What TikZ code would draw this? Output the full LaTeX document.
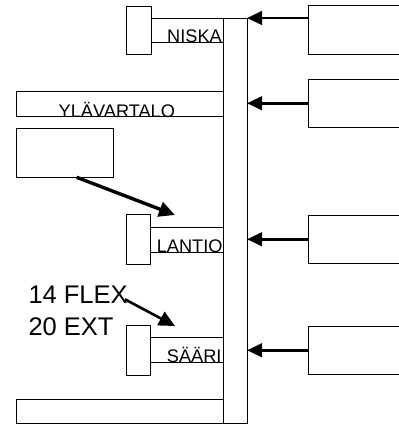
\documentclass[tikz,border=0pt]{standalone}
\usepackage{fontspec}
\setmainfont{Liberation Sans}
\usetikzlibrary{positioning}
\usetikzlibrary{arrows.meta}
\tikzset{
  box/.style={draw, line width=0.8pt, inner sep=0pt, outer sep=0pt, anchor=north west},
  lbl/.style={font=\fontsize{18.2}{21}\selectfont, inner sep=0pt},
  big/.style={font=\fontsize{25.5}{30}\selectfont, inner sep=0pt, anchor=base west},
  push/.style={line width=2.6pt, -{Triangle[length=15pt,width=13.5pt]}},
  cue/.style={line width=3pt, -{Triangle[length=16pt,width=15pt]}},
}

\begin{document}
\begin{tikzpicture}[x=1pt, y=-1pt]
\useasboundingbox (0,0) rectangle (399,424);
\clip (0,0) rectangle (399,424);

% Vertical bar
\node[box, minimum width=24pt, minimum height=405pt] (bar) at (223,18) {};

% Segments on the left of the bar
\node[box, minimum width=25pt, minimum height=48pt] (niskablk) at (126,6) {};
\node[box, minimum width=72pt, minimum height=24.7pt] (niska) at (151,18) {};
\node[box, minimum width=206.3pt, minimum height=24.3pt] (yla) at (16.7,91.7) {};
\node[box, minimum width=97pt, minimum height=49pt] (bigbox) at (16.7,128.3) {};
\node[box, minimum width=24.3pt, minimum height=49.7pt] (lantioblk) at (126,214.3) {};
\node[box, minimum width=72.7pt, minimum height=25pt] (lantio) at (150.3,227) {};
\node[box, minimum width=24pt, minimum height=49.3pt] (saariblk) at (126,325.7) {};
\node[box, minimum width=73pt, minimum height=24.3pt] (saari) at (150,337.7) {};
\node[box, minimum width=206.3pt, minimum height=23.7pt] (bottom) at (16.7,399.3) {};

% Boxes on the right, cut by the page edge
\foreach \n/\y in {r1/5.7, r2/79, r3/215, r4/326} {
    \node[box, minimum width=100pt, minimum height=48.5pt] (\n) at (308.3,\y) {};
}

% Arrows into the bar
\draw[push] (r1.west |- bar.north) -- (bar.north east);
\foreach \r in {r2,r3,r4} {
    \draw[push] (\r.west) -- (bar.east |- \r.west);
}

% Labels
\node[lbl, anchor=base east] (niskatxt) at ([xshift=-1pt]niska.south east) {NISKA};
\node[lbl, anchor=base] (ylatxt) at ([xshift=-3pt, yshift=-1.3pt]yla.south) {YLÄVARTALO};
\node[lbl, anchor=base east] (lantiotxt) at ([xshift=-0.3pt]lantio.south east) {LANTIO};
\node[lbl, anchor=base east] (saaritxt) at ([xshift=-1.3pt]saari.south east) {SÄÄRI};
\node[big] (flex) at (28.3,303.3) {14 FLEX};
\node[big] (ext) at (28.3,335.7) {20 EXT};

% Arrows on the left
\coordinate (lantiotip) at (175,215);
\coordinate (saaritip) at (175,326);
\draw[cue, line width=3.4pt] ([xshift=11.5pt]bigbox.south) -- (lantiotip);
\draw[cue, line width=2.6pt] ([xshift=-3pt, yshift=4pt]flex.base east) -- (saaritip);
\end{tikzpicture}
\end{document}
